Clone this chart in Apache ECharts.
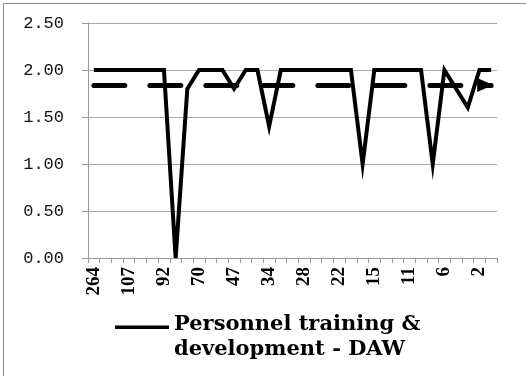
<!DOCTYPE html>
<html>
<head>
<meta charset="utf-8">
<script src="https://cdn.jsdelivr.net/npm/echarts@6/dist/echarts.min.js"></script>
<style>
  html, body { margin: 0; padding: 0; background: #fff; }
  #chart { width: 526px; height: 376px; }
</style>
</head>
<body>
<div id="chart"></div>
<script>
// Category labels along the x axis (every third one is shown)
const categories = [
  '264', '180', '120', '107', '100', '96', '92', '85', '76', '70',
  '60', '52', '47', '42', '38', '34', '31', '30', '28', '26',
  '24', '22', '19', '17', '15', '13', '12', '11', '9', '7',
  '6', '4', '3', '2', '1'
];

// Scores for each category
const dawScores = [
  2.0, 2.0, 2.0, 2.0, 2.0, 2.0, 2.0, 0.0, 1.8, 2.0,
  2.0, 2.0, 1.8, 2.0, 2.0, 1.4, 2.0, 2.0, 2.0, 2.0,
  2.0, 2.0, 2.0, 1.0, 2.0, 2.0, 2.0, 2.0, 2.0, 1.0,
  2.0, 1.8, 1.6, 2.0, 2.0
];

// Mean score, drawn as the dashed reference line
const dawAverage = 1.84;

const seriesName = 'Personnel training & development - DAW';

// Value axis range
const yMin = 0;
const yMax = 2.5;
const yStep = 0.5;

const chart = echarts.init(document.getElementById('chart'), null, { renderer: 'canvas' });

chart.setOption({
  animation: false,
  backgroundColor: '#fff',
  graphic: [{
    type: 'rect',
    left: 1, top: 1,
    shape: { width: 523, height: 380 },
    style: { fill: 'none', stroke: '#8c8c8c', lineWidth: 1 },
    silent: true
  }],
  grid: { left: 88, right: 29, top: 23, bottom: 118 },
  xAxis: {
    type: 'category',
    data: categories,
    boundaryGap: true,
    axisLine: { lineStyle: { color: '#9a9a9a', width: 1 } },
    axisTick: { show: true, interval: 0, length: 5, lineStyle: { color: '#9a9a9a' } },
    axisLabel: {
      interval: 2,
      rotate: 90,
      margin: 9,
      color: '#000',
      fontFamily: 'Liberation Serif',
      fontWeight: 'bold',
      fontSize: 19
    },
    splitLine: { show: false }
  },
  yAxis: {
    type: 'value',
    min: yMin,
    max: yMax,
    interval: yStep,
    axisLine: { show: true, lineStyle: { color: '#9a9a9a', width: 1 } },
    axisTick: { show: true, length: 6, lineStyle: { color: '#9a9a9a' } },
    axisLabel: {
      margin: 24,
      color: '#111',
      fontFamily: 'Liberation Mono',
      fontSize: 17,
      formatter: v => v.toFixed(2)
    },
    splitLine: { lineStyle: { color: '#a8a8a8', width: 1 } }
  },
  legend: {
    left: 110,
    top: 307,
    itemWidth: 54,
    itemHeight: 50,
    icon: 'path://M0,13.5h54v3.5h-54z M0,0h0.01 M0,50h0.01',
    itemStyle: { borderWidth: 0 },
    formatter: name => name.replace('& ', '&\n'),
    textStyle: {
      color: '#000',
      fontFamily: 'DejaVu Serif',
      fontWeight: 'bold',
      fontSize: 21,
      lineHeight: 25
    }
  },
  series: [{
    name: seriesName,
    type: 'line',
    data: dawScores,
    symbol: 'none',
    showSymbol: false,
    itemStyle: { color: '#000' },
    lineStyle: { color: '#000', width: 4, join: 'miter' },
    markLine: {
      silent: true,
      symbol: ['none', 'triangle'],
      symbolSize: [14, 16],
      symbolOffset: [0, [0, 6]],
      label: { show: false },
      emphasis: { disabled: true },
      lineStyle: { color: '#000', width: 5, type: [31, 25], dashOffset: 0, cap: 'round' },
      data: [[
        { coord: [categories[0], dawAverage] },
        { coord: [categories[categories.length - 1], dawAverage] }
      ]]
    }
  }]
});
</script>
</body>
</html>
